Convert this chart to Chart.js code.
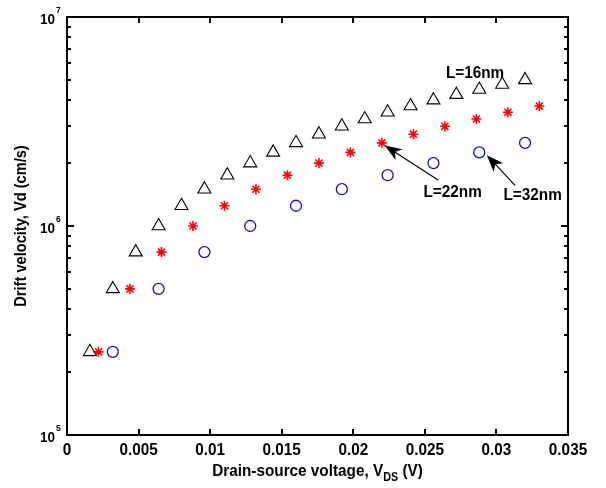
<!DOCTYPE html>
<html>
<head>
<meta charset="utf-8">
<script src="https://cdn.jsdelivr.net/npm/chart.js@4.4.1/dist/chart.umd.min.js"></script>
<style>
  html, body { margin: 0; padding: 0; background: #fff; }
  canvas { display: block; }
</style>
</head>
<body>
<canvas id="driftChart" width="606" height="488"></canvas>
<script>
// Drain-source voltage (V) and drift velocity (cm/s), one pair of arrays per channel length
var vdsL16 = [0.0016, 0.0032, 0.0048, 0.0064, 0.0080, 0.0096, 0.0112, 0.0128, 0.0144, 0.0160,
              0.0176, 0.0192, 0.0208, 0.0224, 0.0240, 0.0256, 0.0272, 0.0288, 0.0304, 0.0320];
var vdL16 = [2.5e5, 5.0e5, 7.5e5, 1.0e6, 1.25e6, 1.5e6, 1.75e6, 2.0e6, 2.25e6, 2.5e6,
             2.75e6, 3.0e6, 3.25e6, 3.5e6, 3.75e6, 4.0e6, 4.25e6, 4.5e6, 4.75e6, 5.0e6];

var vdsL22 = [0.0022, 0.0044, 0.0066, 0.0088, 0.0110, 0.0132, 0.0154, 0.0176, 0.0198, 0.0220,
              0.0242, 0.0264, 0.0286, 0.0308, 0.0330];
var vdL22 = [2.5e5, 5.0e5, 7.5e5, 1.0e6, 1.25e6, 1.5e6, 1.75e6, 2.0e6, 2.25e6, 2.5e6,
             2.75e6, 3.0e6, 3.25e6, 3.5e6, 3.75e6];

var vdsL32 = [0.0032, 0.0064, 0.0096, 0.0128, 0.0160, 0.0192, 0.0224, 0.0256, 0.0288, 0.0320];
var vdL32 = [2.5e5, 5.0e5, 7.5e5, 1.0e6, 1.25e6, 1.5e6, 1.75e6, 2.0e6, 2.25e6, 2.5e6];

// axis ticks
var xTickValues = [0, 0.005, 0.01, 0.015, 0.02, 0.025, 0.03, 0.035];
var xTickLabels = ['0', '0.005', '0.01', '0.015', '0.02', '0.025', '0.03', '0.035'];
var yTickValues = [1e5, 1e6, 1e7];
var yTickExponents = ['5', '6', '7'];
var yMinorValues = [2e5, 3e5, 4e5, 5e5, 6e5, 7e5, 8e5, 9e5,
                    2e6, 3e6, 4e6, 5e6, 6e6, 7e6, 8e6, 9e6];

// callout labels (text baseline centre) and arrows, in data units
var calloutText = ['L=16nm', 'L=22nm', 'L=32nm'];
var calloutAt = [[0.02851, 5.09e6], [0.02694, 1.377e6], [0.03253, 1.327e6]];
var arrowFrom = [null, [0.02595, 1.655e6], [0.0313, 1.566e6]];
var arrowTo = [null, [0.0222, 2.43e6], [0.02933, 2.18e6]];

var FONT = '"Liberation Sans", Arial, sans-serif';

function pairs(xv, yv) {
    return xv.map(function(x, i) {
        return {x: x, y: yv[i]};
    });
}

// bold text squeezed horizontally, like the old MATLAB export
function squeezedText(ctx, str, x, y, size, sx, align) {
    ctx.save();
    ctx.translate(x, y);
    ctx.scale(sx, 1);
    ctx.font = 'bold ' + size + 'px ' + FONT;
    ctx.textAlign = align;
    ctx.textBaseline = 'alphabetic';
    ctx.fillText(str, 0, 0);
    ctx.restore();
}

function squeezedWidth(ctx, str, size, sx) {
    ctx.save();
    ctx.font = 'bold ' + size + 'px ' + FONT;
    var w = ctx.measureText(str).width * sx;
    ctx.restore();
    return w;
}

function drawArrow(ctx, x0, y0, x1, y1) {
    var ang = Math.atan2(y1 - y0, x1 - x0);
    var len = 17, half = 6.5;
    var cosA = Math.cos(ang), sinA = Math.sin(ang);
    ctx.beginPath();
    ctx.moveTo(x0, y0);
    ctx.lineTo(x1 - cosA * len * 0.7, y1 - sinA * len * 0.7);
    ctx.lineWidth = 1.2;
    ctx.strokeStyle = '#000';
    ctx.stroke();

    var bx = x1 - cosA * len, by = y1 - sinA * len;
    var nx = -sinA, ny = cosA;
    ctx.beginPath();
    ctx.moveTo(x1, y1);
    ctx.lineTo(bx + nx * half, by + ny * half);
    ctx.lineTo(x1 - cosA * len * 0.72, y1 - sinA * len * 0.72);
    ctx.lineTo(bx - nx * half, by - ny * half);
    ctx.closePath();
    ctx.fillStyle = '#000';
    ctx.fill();
}

var axesPlugin = {
    id: 'matlabAxes',
    afterDraw: function(chart) {
        var ctx = chart.ctx;
        var area = chart.chartArea;
        var sx = chart.scales.x, sy = chart.scales.y;
        var L = Math.round(area.left), R = Math.round(area.right);
        var T = Math.round(area.top), B = Math.round(area.bottom);

        ctx.save();

        // box and inward ticks in one path
        ctx.beginPath();
        ctx.rect(L, T, R - L, B - T);
        xTickValues.forEach(function(v) {
            var px = Math.round(sx.getPixelForValue(v));
            ctx.moveTo(px, B);
            ctx.lineTo(px, B - 6);
            ctx.moveTo(px, T);
            ctx.lineTo(px, T + 6);
        });
        yTickValues.forEach(function(v) {
            var py = Math.round(sy.getPixelForValue(v));
            ctx.moveTo(L, py);
            ctx.lineTo(L + 7, py);
            ctx.moveTo(R, py);
            ctx.lineTo(R - 7, py);
        });
        yMinorValues.forEach(function(v) {
            var py = Math.round(sy.getPixelForValue(v));
            ctx.moveTo(L, py);
            ctx.lineTo(L + 4, py);
            ctx.moveTo(R, py);
            ctx.lineTo(R - 4, py);
        });
        ctx.strokeStyle = '#000';
        ctx.lineWidth = 2;
        ctx.stroke();

        ctx.fillStyle = '#000';

        // x tick labels
        xTickValues.forEach(function(v, i) {
            squeezedText(ctx, xTickLabels[i], sx.getPixelForValue(v), B + 20, 17, 0.9, 'center');
        });

        // y tick labels 10^n
        yTickValues.forEach(function(v, i) {
            var py = sy.getPixelForValue(v);
            squeezedText(ctx, '10', L - 12, py + 6.5, 15, 0.9, 'right');
            squeezedText(ctx, yTickExponents[i], L - 11, py - 4, 9, 0.95, 'left');
        });

        // x title with subscript
        var cx = (L + R) / 2;
        var part1 = 'Drain-source voltage, V', sub = 'DS', part2 = ' (V)';
        var w1 = squeezedWidth(ctx, part1, 17, 0.9);
        var w2 = squeezedWidth(ctx, sub, 12, 0.9);
        var w3 = squeezedWidth(ctx, part2, 17, 0.9);
        var x0 = cx - (w1 + w2 + w3) / 2;
        var base = B + 41;
        squeezedText(ctx, part1, x0, base, 17, 0.9, 'left');
        squeezedText(ctx, sub, x0 + w1, base + 5, 12, 0.9, 'left');
        squeezedText(ctx, part2, x0 + w1 + w2, base, 17, 0.9, 'left');

        // y title
        ctx.save();
        ctx.translate(26, (T + B) / 2);
        ctx.rotate(-Math.PI / 2);
        squeezedText(ctx, 'Drift velocity, Vd (cm/s)', 0, 0, 17, 0.86, 'center');
        ctx.restore();

        // callouts
        calloutText.forEach(function(t, i) {
            var p = calloutAt[i];
            squeezedText(ctx, t, sx.getPixelForValue(p[0]), sy.getPixelForValue(p[1]), 17, 0.9, 'center');
            if (arrowFrom[i]) {
                drawArrow(ctx,
                    sx.getPixelForValue(arrowFrom[i][0]), sy.getPixelForValue(arrowFrom[i][1]),
                    sx.getPixelForValue(arrowTo[i][0]), sy.getPixelForValue(arrowTo[i][1]));
            }
        });

        ctx.restore();
    }
};

new Chart(document.getElementById('driftChart'), {
    type: 'scatter',
    data: {
        datasets: [{
            label: 'L=16nm',
            data: pairs(vdsL16, vdL16),
            pointStyle: 'triangle',
            pointRadius: 7.5,
            borderColor: '#000000',
            backgroundColor: 'rgba(0,0,0,0)',
            borderWidth: 1.1
        }, {
            label: 'L=22nm',
            data: pairs(vdsL22, vdL22),
            pointStyle: 'star',
            pointRadius: 5,
            borderColor: '#ff0000',
            backgroundColor: 'rgba(0,0,0,0)',
            borderWidth: 1.6
        }, {
            label: 'L=32nm',
            data: pairs(vdsL32, vdL32),
            pointStyle: 'circle',
            pointRadius: 5.5,
            borderColor: '#1010c8',
            backgroundColor: 'rgba(0,0,0,0)',
            borderWidth: 1.3
        }]
    },
    options: {
        responsive: false,
        animation: false,
        events: [],
        layout: {
            padding: {left: 67, right: 38, top: 17, bottom: 53}
        },
        scales: {
            x: {type: 'linear', display: false, min: 0, max: 0.035},
            y: {type: 'logarithmic', display: false, min: 1e5, max: 1e7}
        },
        plugins: {
            legend: {display: false},
            tooltip: {enabled: false}
        }
    },
    plugins: [axesPlugin]
});
</script>
</body>
</html>
